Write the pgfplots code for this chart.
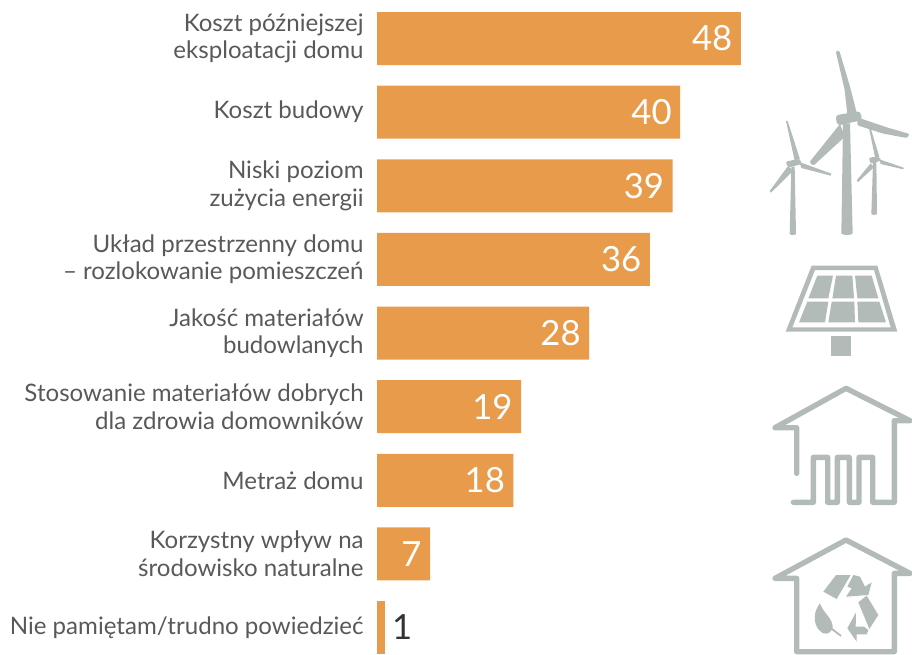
\documentclass[border=0pt]{standalone}
\usepackage{pgfplots}
\pgfplotsset{compat=1.18}
\usepackage{fontspec}
\setmainfont{Lato}
\definecolor{barc}{HTML}{E79B4B}
\definecolor{icon}{HTML}{B3BBB8}
\definecolor{txt}{HTML}{58595B}
\definecolor{dark}{HTML}{333333}
\begin{document}
\begin{tikzpicture}
\useasboundingbox (0,0) rectangle (684pt,490.5pt);
\begin{axis}[
  at={(282.75pt,0pt)}, anchor=south west,
  scale only axis, width=401.25pt, height=490.5pt,
  xbar, bar shift=0pt, bar width=39.75pt,
  xmin=0, xmax=70.58, ymin=-0.523, ymax=8.36, y dir=reverse,
  clip=false,
  axis line style={draw=none}, tick style={draw=none},
  xtick=\empty, ytick={0,1,2,3,4,5,6,7,8},
  yticklabels={{Koszt późniejszej\\eksploatacji domu},{Koszt budowy},{Niski poziom\\zużycia energii},{Układ przestrzenny domu\\– rozlokowanie pomieszczeń},{Jakość materiałów\\budowlanych},{Stosowanie materiałów dobrych\\dla zdrowia domowników},{Metraż domu},{Korzystny wpływ na\\środowisko naturalne},{Nie pamiętam/trudno powiedzieć}},
  yticklabel style={align=right, font=\fontsize{18.05}{20.6}\selectfont, text=txt, inner sep=0pt, xshift=-5.6pt},
  /pgf/number format/assume math mode=true,
  nodes near coords,
]
\addplot[fill=barc, draw=none, every node near coord/.append style={anchor=east, text=white, font=\fontsize{26}{30}\selectfont, inner sep=0pt, xshift=-6.2pt}] coordinates {(48,0) (40,1) (39,2) (36,3) (28,4) (19,5) (18,6) (7,7)};
\addplot[fill=barc, draw=none, every node near coord/.append style={anchor=west, text=dark, font=\fontsize{26}{30}\selectfont, inner sep=0pt, xshift=5.5pt}] coordinates {(1,8)};
\end{axis}
% turbines (zoom 1 coordinates)
\begin{scope}[shift={(570pt,460.5pt)}, x=0.25pt, y=-0.25pt]
 \fill[icon] (244,580) -- (249,250) -- (270,250) -- (278,580) to[out=-90,in=-90,looseness=.5] (244,580) -- cycle;
 \fill[icon,rounded corners=2.5pt] (226,226) -- (300,213) -- (307,240) -- (232,257) -- cycle;
 \fill[icon,rounded corners=1pt] (227,33) -- (238,32) -- (270,140) -- (290,218) -- (262,224) -- (254,150) -- cycle;
 \fill[icon,rounded corners=1pt] (292,232) -- (380,262) -- (449,282) -- (441,294) -- (370,281) -- (292,256) -- cycle;
 \fill[icon,rounded corners=1pt] (240,252) -- (148,367) -- (160,377) -- (255,290) -- cycle;
 % left
 \fill[icon] (89,582) -- (94,380) -- (104,380) -- (108,582) to[out=-90,in=-90,looseness=.5] (89,582) -- cycle;
 \fill[icon,rounded corners=1.5pt] (77,365) -- (118,356) -- (126,372) -- (84,383) -- cycle;
 \fill[icon] (78,243) -- (83,243) -- (120,358) -- (104,362) -- cycle;
 \fill[icon] (118,366) -- (214,401) -- (212,407) -- (124,384) -- cycle;
 \fill[icon] (84,378) -- (29,453) -- (33,458) -- (100,392) -- cycle;
 % right
 \fill[icon] (334,522) -- (339,365) -- (349,365) -- (351,522) to[out=-90,in=-90,looseness=.5] (334,522) -- cycle;
 \fill[icon,rounded corners=1.5pt] (326,353) -- (358,349) -- (363,362) -- (332,371) -- cycle;
 \fill[icon] (327,265) -- (332,265) -- (358,350) -- (345,352) -- cycle;
 \fill[icon] (358,358) -- (431,383) -- (430,388) -- (362,372) -- cycle;
 \fill[icon] (332,370) -- (290,421) -- (294,426) -- (342,382) -- cycle;
\end{scope}
% solar + house (zoom 2 coordinates)
\begin{scope}[shift={(570pt,303pt)}, x=0.25pt, y=-0.25pt]
 \fill[icon,even odd rule] (155,47) -- (352,47) -- (412,245) -- (77,245) -- cycle (165,60) -- (342,60) -- (392,232) -- (97,232) -- cycle;
 \fill[icon] (172,77) -- (219,77) -- (205,145) -- (145,145) -- cycle;
 \fill[icon] (228,77) -- (277,77) -- (282,145) -- (217,145) -- cycle;
 \fill[icon] (285,77) -- (335,77) -- (355,145) -- (292,145) -- cycle;
 \fill[icon] (142,155) -- (205,155) -- (195,217) -- (117,217) -- cycle;
 \fill[icon] (215,155) -- (283,155) -- (285,217) -- (205,217) -- cycle;
 \fill[icon] (292,155) -- (358,155) -- (378,217) -- (295,217) -- cycle;
 \fill[icon] (213,258) rectangle (273,318);
 \draw[icon, line width=4pt, line cap=round, line join=round] (110,670) -- (110,533) -- (45,533) -- (258,415) -- (450,512) -- (403,512) -- (403,757) -- (338,757) -- (338,622) -- (297,622) -- (297,757) -- (268,757) -- (268,622) -- (232,622) -- (232,757) -- (203,757) -- (203,622) -- (160,622) -- (160,757) -- (100,757);
\end{scope}
% recycle house (zoom 3 coordinates)
\begin{scope}[shift={(570pt,96.75pt)}, x=0.25pt, y=-0.25pt]
 \draw[icon, line width=4pt, line cap=round, line join=round] (110,380) -- (110,160) -- (45,160) -- (258,45) -- (450,145) -- (403,145) -- (403,380) -- cycle;
 \fill[icon] (228,150) -- (272,150) -- (230,222) -- (190,200) -- cycle;
 \fill[icon] (280,150) -- (300,155) -- (315,185) -- (335,172) -- (325,210) -- (258,215) -- (275,190) -- (262,185) -- cycle;
 \fill[icon] (320,212) -- (355,270) -- (328,312) -- (295,232) -- cycle;
 \fill[icon] (288,262) -- (262,310) -- (290,350) -- (290,328) -- (320,328) -- (325,315) -- (312,305) -- (287,305) -- cycle;
 \fill[icon] (180,235) .. controls (155,265) and (160,310) .. (190,325) .. controls (205,328) and (212,322) .. (215,315) -- (242,335) -- (244,330) -- (218,310) .. controls (220,280) and (190,265) .. (180,235) -- cycle;
\end{scope}
\end{tikzpicture}
\end{document}
